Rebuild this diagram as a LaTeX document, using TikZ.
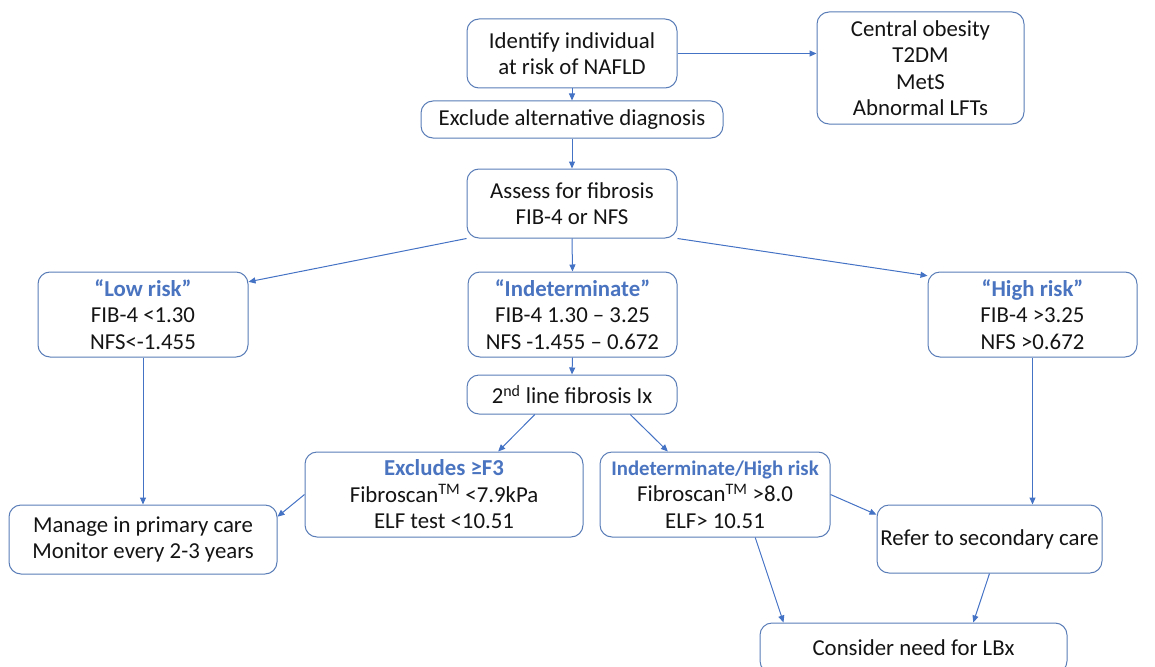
\documentclass[tikz,border=0pt]{standalone}
\usepackage{fontspec}
\setmainfont{Carlito}
\usetikzlibrary{calc,arrows.meta}
\definecolor{arrowblue}{HTML}{4472C4}
\definecolor{boxblue}{HTML}{5A7DB8}
\definecolor{headblue}{HTML}{4A74C0}
\begin{document}
\begin{tikzpicture}[x=1pt,y=-1pt,
  box/.style={draw=boxblue,line width=1pt,rounded corners=12pt,fill=white,
    align=center,inner sep=0pt,font=\fontsize{22.8}{26.5}\selectfont,text=black!92},
  conn/.style={draw=arrowblue,line width=1pt,-{Triangle[length=7pt,width=6pt]}}]
\useasboundingbox (0,0) rectangle (1155,666);
\newcommand{\hdtext}[1]{\textcolor{headblue}{\bfseries #1}}
\node[box,minimum width=210,minimum height=69] (A) at (572,53.5) {Identify individual\\at risk of NAFLD};
\node[box,minimum width=302,minimum height=37] (Ex) at (572,119.5) {Exclude alternative diagnosis};
\node[box,minimum width=210,minimum height=69] (As) at (572,203.5) {Assess for fibrosis\\FIB-4 or NFS};
\node[box,minimum width=207,minimum height=112] (C) at (920.5,68) {Central obesity\\T2DM\\MetS\\Abnormal LFTs};
\node[box,minimum width=210,minimum height=85] (L) at (143,314.5) {\hdtext{“Low risk”}\\FIB-4 <1.30\\NFS<-1.455};
\node[box,minimum width=209,minimum height=85] (I) at (572.5,314.5) {\hdtext{“Indeterminate”}\\FIB-4 1.30 -- 3.25\\NFS -1.455 -- 0.672};
\node[box,minimum width=209,minimum height=85] (H) at (1032.5,314.5) {\hdtext{“High risk”}\\FIB-4 >3.25\\NFS >0.672};
\node[box,minimum width=210,minimum height=39] (S) at (572,394.5) {2\textsuperscript{nd} line fibrosis Ix};
\node[box,minimum width=268,minimum height=69] (M) at (143,539.5) {Manage in primary care\\Monitor every 2-3 years};
\node[box,minimum width=278,minimum height=85] (E) at (444,494.5) {\hdtext{Excludes ≥F3}\\Fibroscan\textsuperscript{TM} <7.9kPa\\ELF test <10.51};
\node[box,minimum width=230,minimum height=85] (IH) at (715,494.5) {\hdtext{\fontsize{20.8}{26.5}\selectfont Indeterminate/High risk}\\Fibroscan\textsuperscript{TM} >8.0\\ELF> 10.51};
\node[box,minimum width=225,minimum height=68] (R) at (989.5,539) {Refer to secondary care};
\node[box,minimum width=307,minimum height=50] (Cn) at (913.5,648) {Consider need for LBx};

\draw[conn] (A.east) -- (A.east -| C.west);
\draw[conn] (A.south) -- (Ex.north);
\draw[conn] (Ex.south) -- (As.north);
\draw[conn] (As.south west) -- ($(L.north east)!0.12!(L.south east)$);
\draw[conn] (As.south) -- (I.north);
\draw[conn] (As.south east) -- ($(H.north west)!0.05!(H.south west)$);
\draw[conn] (I.south) -- (S.north);
\draw[conn] ($(S.south west)!0.324!(S.south east)$) -- ($(E.north west)!0.694!(E.north east)$);
\draw[conn] ($(S.south west)!0.776!(S.south east)$) -- ($(IH.north west)!0.296!(IH.north east)$);
\draw[conn] (L.south) -- (L.south |- M.north);
\draw[conn] (E.west) -- ($(M.north east)!0.174!(M.south east)$);
\draw[conn] (IH.east) -- ($(R.north west)!0.147!(R.south west)$);
\draw[conn] ($(IH.south west)!0.674!(IH.south east)$) -- ($(Cn.north west)!0.078!(Cn.north east)$);
\draw[conn] (H.south) -- (H.south |- R.north);
\draw[conn] (R.south) -- ($(Cn.north west)!0.694!(Cn.north east)$);
\end{tikzpicture}
\end{document}
